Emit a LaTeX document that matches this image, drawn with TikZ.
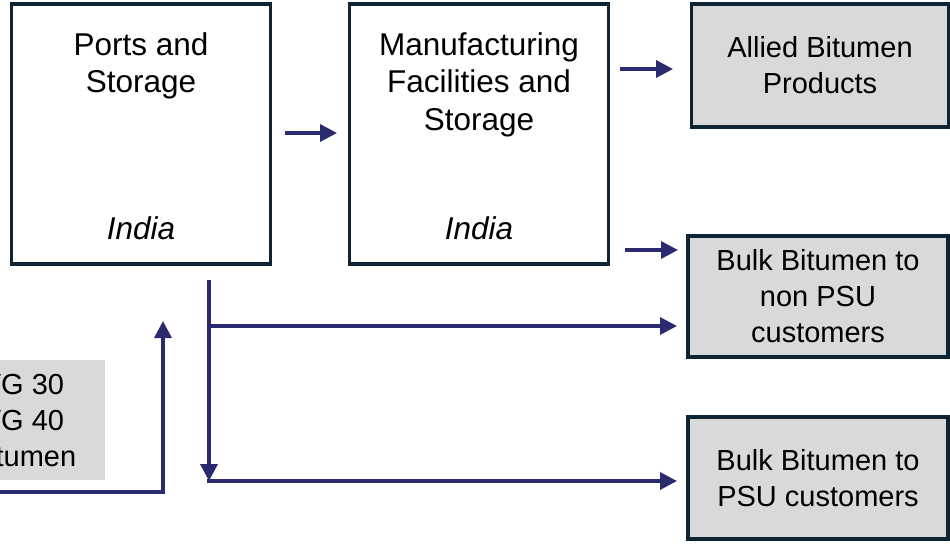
\documentclass[tikz,border=0pt]{standalone}
\usepackage{fontspec}
\setmainfont{Liberation Sans}
\usetikzlibrary{arrows.meta}
\definecolor{boxline}{HTML}{0E2433}
\definecolor{arrowc}{HTML}{2B2A6E}
\definecolor{boxfill}{HTML}{D9D9D9}
\begin{document}
\begin{tikzpicture}[x=1pt,y=-1pt,
 bigbox/.style={draw=boxline,line width=3.5pt,minimum width=259pt,minimum height=260pt,inner sep=0pt},
 greybox/.style={draw=boxline,line width=3.5pt,fill=boxfill,inner sep=0pt,align=center,font=\fontsize{29}{36}\selectfont},
 txt/.style={align=center,font=\fontsize{31.5}{37.5}\selectfont,inner sep=0pt},
 flow/.style={draw=arrowc,line width=3.5pt,-{Triangle[length=17pt,width=17pt]}}
]
\useasboundingbox (0,0) rectangle (950,544);
\clip (0,0) rectangle (950,544);

% main boxes
\node[bigbox] (ports) at (141,134) {};
\node[bigbox] (manuf) at (479,134) {};
\node[txt,anchor=north] (portsT) at (141,32) {Ports and\\Storage};
\node[txt,anchor=north] (manufT) at (479,32) {Manufacturing\\Facilities and\\Storage};
\node[txt,font=\fontsize{31.5}{37.5}\selectfont\itshape] (portsI) at (141,228) {India};
\node[txt,font=\fontsize{31.5}{37.5}\selectfont\itshape] (manufI) at (479,228) {India};

% output boxes
\node[greybox,minimum width=257pt,minimum height=123pt] (allied) at (820,65.5) {Allied Bitumen\\Products};
\node[greybox,minimum width=260pt,minimum height=121pt] (bulk1) at (818,296.5) {Bulk Bitumen to\\non PSU\\customers};
\node[greybox,minimum width=260pt,minimum height=122pt] (bulk2) at (818,478) {Bulk Bitumen to\\PSU customers};

% source box (partly cut off at the left edge, as in the reference)
\node[fill=boxfill,minimum width=170pt,minimum height=120pt,inner sep=0pt,align=center,font=\fontsize{29}{36}\selectfont] (src) at (20,420) {};
\node[inner sep=0pt,align=center,font=\fontsize{29}{36}\selectfont] (srcT) at (23,421) {VG 30\\VG 40\\Bitumen};

% connector coordinates
\coordinate (a1s) at (285,133);
\coordinate (a1e) at (337,133);
\coordinate (a2s) at (620,69);
\coordinate (a2e) at (673,69);
\coordinate (a3s) at (625,250);
\coordinate (a3e) at (678,250);
\coordinate (vtop) at (209,280);
\coordinate (vbot) at (209,481);
\coordinate (vmid) at (209,326);
\coordinate (b1e) at (677,326);
\coordinate (b2s) at (207.25,481);
\coordinate (b2e) at (677,481);
\coordinate (ls) at (0,492);
\coordinate (lc) at (163,492);
\coordinate (le) at (163,321);

\draw[flow] (a1s) -- (a1e);
\draw[flow] (a2s) -- (a2e);
\draw[flow] (a3s) -- (a3e);
\draw[flow] (vtop) -- (vbot);
\draw[flow] (vmid) -- (b1e);
\draw[flow] (b2s) -- (b2e);
\draw[flow] (ls) -- (lc) -- (le);
\end{tikzpicture}
\end{document}
